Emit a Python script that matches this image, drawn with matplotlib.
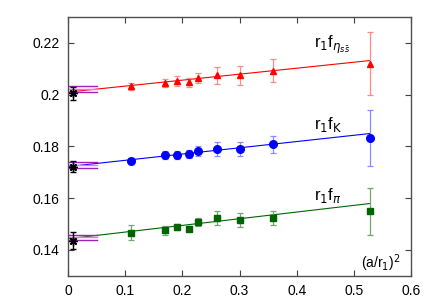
import numpy as np
import matplotlib
matplotlib.use("Agg")
import matplotlib.pyplot as plt

plt.rcParams['font.family'] = ['Liberation Sans', 'DejaVu Sans']

# (a/r1)^2 of the ensembles
a2 = [0.110, 0.170, 0.190, 0.212, 0.228, 0.261, 0.300, 0.358, 0.528]

f_eta = [0.2033, 0.2045, 0.2052, 0.2048, 0.2066, 0.2075, 0.2075, 0.2092, 0.2120]
e_eta = [0.0014, 0.0017, 0.0019, 0.0018, 0.0019, 0.0033, 0.0036, 0.0044, 0.0122]

f_K = [0.1745, 0.1766, 0.1766, 0.1770, 0.1782, 0.1790, 0.1790, 0.1808, 0.1832]
e_K = [0.0010, 0.0016, 0.0015, 0.0016, 0.0018, 0.0028, 0.0028, 0.0032, 0.0107]

f_pi = [0.1467, 0.1476, 0.1489, 0.1482, 0.1507, 0.1523, 0.1515, 0.1523, 0.1550]
e_pi = [0.0029, 0.0017, 0.0012, 0.0010, 0.0015, 0.0026, 0.0026, 0.0028, 0.0091]

# continuum fits (intercept, slope)
fit_eta = (0.2010, 0.0231)
fit_K = (0.1722, 0.0242)
fit_pi = (0.1443, 0.0258)
fit_range = [0.0, 0.528]

# continuum values (black stars)
star_x = 0.008
star_y = [0.2005, 0.1722, 0.1436]
star_e = [0.0025, 0.0022, 0.0034]

# comparison bands (low, central, high)
band_eta = [0.2009, 0.2022, 0.2035]
band_K = [0.1715, 0.1728, 0.1741]
band_pi = [0.1439, 0.1449, 0.1459]
band_x = [0.0, 0.05]

fig = plt.figure(figsize=(4.36, 3.05), dpi=100)
ax = fig.add_axes([0.156, 0.096, 0.787, 0.848])

series = [
    (f_eta, e_eta, fit_eta, '^', 'red', '#ff8a8a', 4.5),
    (f_K, e_K, fit_K, 'o', 'blue', '#8a8aff', 5.5),
    (f_pi, e_pi, fit_pi, 's', '#006400', '#70a870', 4.8),
]
for vals, errs, fit, mk, col, ecol, ms in series:
    xf = np.array(fit_range)
    ax.plot(xf, fit[0] + fit[1] * xf, color=col, lw=0.8, zorder=2)
    ax.errorbar(a2, vals, yerr=errs, fmt=mk, color=col, ecolor=ecol,
                ms=ms, elinewidth=0.9, capsize=2, capthick=0.9, zorder=3)

for band in [band_eta, band_K, band_pi]:
    ax.plot(band_x, [band[0]] * 2, color='#a020c0', lw=1.0, zorder=2)
    ax.plot(band_x, [band[2]] * 2, color='#a020c0', lw=1.0, zorder=2)
    ax.plot(band_x, [band[1]] * 2, color='#ff66ff', lw=1.0, zorder=2)

ax.errorbar([star_x] * 3, star_y, yerr=star_e, fmt='none', ecolor='black',
            elinewidth=1.0, capsize=2, capthick=1.0, zorder=4)
ax.plot([star_x] * 3, star_y, ls='none', marker=(8, 2, 0), ms=6,
        mec='black', mew=1.0, zorder=5)

ax.text(0.43, 0.2180, r'r$_1$f$_{\eta_{s\bar{s}}}$', fontsize=12, va='baseline')
ax.text(0.43, 0.1869, r'r$_1$f$_{\rm K}$', fontsize=12, va='baseline')
ax.text(0.43, 0.1591, r'r$_1$f$_\pi$', fontsize=12, va='baseline')
ax.text(0.5475, 0.1347, r'(a/r$_1$)$^2$', fontsize=10, va='center', ha='center')

ax.set_xlim(0, 0.6)
ax.set_ylim(0.13, 0.23)
ax.set_xticks([0, 0.1, 0.2, 0.3, 0.4, 0.5, 0.6])
ax.set_xticklabels(['0', '0.1', '0.2', '0.3', '0.4', '0.5', '0.6'])
ax.set_yticks([0.14, 0.16, 0.18, 0.2, 0.22])
ax.set_yticklabels(['0.14', '0.16', '0.18', '0.2', '0.22'])
ax.tick_params(direction='in', top=True, right=True, length=4, width=0.8,
               labelsize=10, color='#404040', pad=6)
for sp in ax.spines.values():
    sp.set_color('#505050')
    sp.set_linewidth(1.0)

fig.savefig('out.png', dpi=100)
